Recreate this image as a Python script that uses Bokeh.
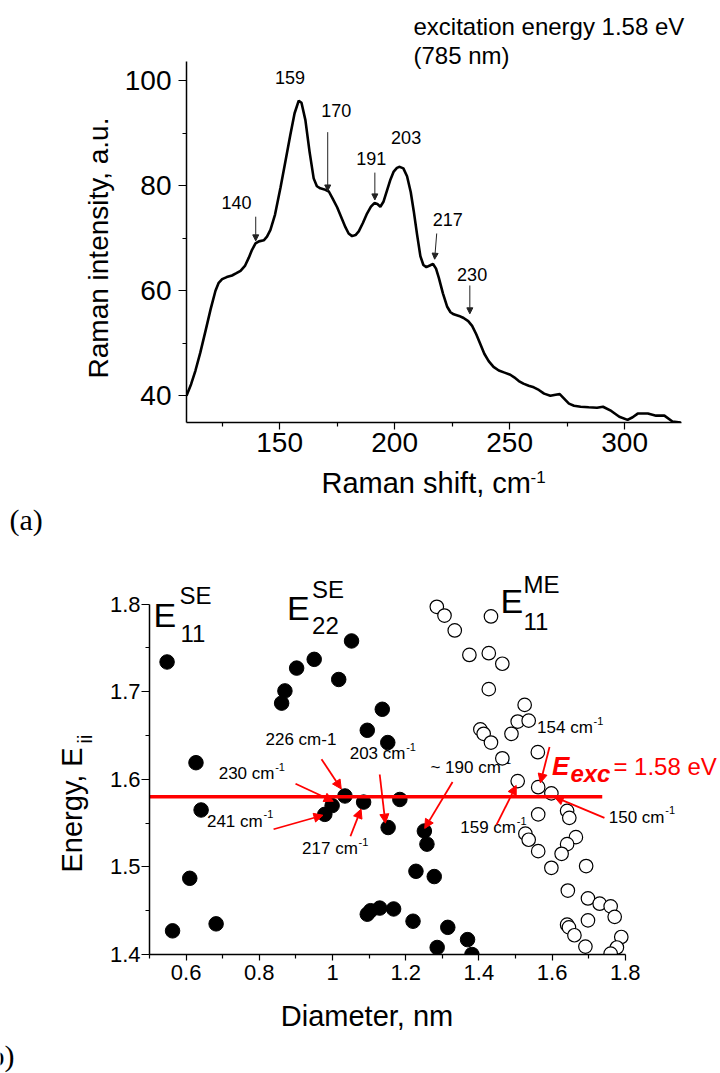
import math

from bokeh.plotting import figure
from bokeh.layouts import row
from bokeh.models import Range1d, FixedTicker, Arrow, NormalHead
from bokeh.core.properties import value
from bokeh.embed import file_html
from bokeh.resources import INLINE

FONT = "Liberation Sans"
SERIF = "Liberation Serif"
RED = "#ff0000"

# ---------------- (a) Raman spectrum, excitation 785 nm ----------------
raman_shift = [109.5, 111.5, 113.4, 115.5, 117.8, 120.0, 122.1, 123.5, 125.0, 127.0,
               129.3, 131.0, 133.0, 135.0, 136.6, 138.0, 139.5, 141.0, 143.1, 144.5,
               146.0, 148.0, 150.4, 152.5, 154.7, 156.5, 158.3, 159.5, 161.2, 163.0,
               164.8, 166.2, 167.7, 169.5, 171.4, 173.0, 175.0, 176.8, 178.6, 180.0,
               181.5, 183.0, 184.4, 186.2, 188.0, 189.7, 191.2, 192.5, 193.8, 195.2,
               196.7, 198.2, 199.6, 201.0, 202.2, 203.8, 205.4, 207.0, 208.3, 209.8,
               211.2, 212.5, 213.8, 215.3, 216.7, 218.0, 219.2, 221.0, 222.8, 224.3,
               225.7, 228.0, 230.0, 232.0, 233.7, 235.5, 237.3, 239.0, 240.9, 243.0,
               245.3, 247.8, 250.3, 252.0, 254.0, 256.0, 258.3, 260.5, 262.7, 265.0,
               267.7, 270.0, 271.8, 273.8, 275.8, 278.0, 280.9, 284.4, 288.0, 290.6,
               294.2, 297.7, 301.3, 303.5, 305.7, 310.1, 313.7, 317.3, 320.8, 324.4]
raman_intensity = [40.0, 42.2, 44.8, 48.2, 52.4, 56.5, 60.0, 61.5, 62.2, 62.6,
                   62.9, 63.3, 63.8, 64.8, 66.3, 67.8, 69.0, 69.4, 69.6, 70.3,
                   71.6, 74.5, 79.7, 84.6, 89.8, 93.8, 96.2, 95.8, 92.5, 86.5,
                   81.4, 79.9, 79.5, 79.3, 78.9, 77.6, 75.9, 74.0, 72.1, 70.9,
                   70.4, 70.6, 71.3, 72.9, 74.7, 76.0, 76.7, 76.5, 76.0, 77.0,
                   79.1, 81.2, 82.7, 83.4, 83.6, 83.3, 81.8, 78.8, 75.2, 70.6,
                   66.6, 64.9, 64.5, 64.8, 65.1, 64.2, 62.5, 59.5, 57.0, 55.9,
                   55.5, 55.2, 54.8, 54.2, 53.3, 51.7, 49.8, 48.0, 46.6, 45.5,
                   44.8, 44.4, 44.0, 43.5, 42.8, 42.3, 41.9, 41.6, 41.1, 40.4,
                   40.0, 40.2, 40.3, 39.4, 38.5, 38.1, 37.9, 37.8, 37.7, 37.9,
                   37.1, 36.0, 35.4, 35.9, 36.6, 36.6, 36.2, 36.2, 35.1, 34.9]
shift_axis = (109.5, 324.7)
intensity_axis = (34.9, 103.7)

# peak labels (baseline positions) above the curve
peak_text = ["140", "159", "170", "191", "203", "217", "230"]
peak_text_x = [131.2, 154.5, 174.6, 189.8, 205.0, 223.1, 233.7]
peak_text_y = [75.6, 99.4, 93.1, 84.0, 87.9, 72.3, 61.9]

# arrows pointing at weaker features of the spectrum
peak_arrow_x0 = [139.6, 170.9, 191.4, 218.3, 232.7]
peak_arrow_y0 = [74.1, 90.2, 82.5, 70.9, 61.0]
peak_arrow_x1 = [139.6, 170.9, 191.4, 217.4, 232.7]
peak_arrow_y1 = [69.5, 79.0, 77.3, 66.0, 55.6]

# ---------------- (b) Kataura-type plot ----------------
# semiconducting E11 transitions
d_e11_se = [0.548, 0.627, 0.641, 0.610, 0.563, 0.682]
e_e11_se = [1.734, 1.619, 1.565, 1.487, 1.427, 1.435]
# semiconducting E22 transitions
d_e22_se = [0.861, 0.870, 0.902, 0.950, 1.052, 1.017, 1.136, 1.095, 1.151,
            1.034, 0.999, 0.979, 1.085, 1.184, 1.152, 1.251, 1.258, 1.228, 1.278,
            1.095, 1.104, 1.129, 1.167, 1.220, 1.286, 1.315, 1.369, 1.381]
e_e22_se = [1.687, 1.701, 1.727, 1.737, 1.758, 1.714, 1.680, 1.656, 1.642,
            1.581, 1.570, 1.560, 1.574, 1.577, 1.545, 1.541, 1.526, 1.495, 1.489,
            1.446, 1.450, 1.453, 1.452, 1.438, 1.408, 1.431, 1.417, 1.400]
# metallic E11 transitions
d_e11_me = [1.285, 1.306, 1.334, 1.433, 1.374, 1.427, 1.464, 1.427, 1.525, 1.506,
            1.536, 1.404, 1.413, 1.433, 1.489, 1.561, 1.464, 1.506, 1.562, 1.598,
            1.562, 1.641, 1.647, 1.527, 1.536, 1.562, 1.665, 1.641, 1.626, 1.598,
            1.693, 1.643, 1.698, 1.730, 1.760, 1.771, 1.698, 1.641, 1.646, 1.661,
            1.789, 1.691, 1.777, 1.760]
e_e11_me = [1.797, 1.787, 1.770, 1.786, 1.742, 1.744, 1.732, 1.703, 1.685, 1.666,
            1.667, 1.657, 1.652, 1.642, 1.652, 1.631, 1.624, 1.598, 1.591, 1.584,
            1.560, 1.564, 1.556, 1.538, 1.531, 1.518, 1.534, 1.526, 1.515, 1.499,
            1.501, 1.473, 1.464, 1.458, 1.455, 1.443, 1.439, 1.434, 1.431, 1.422,
            1.420, 1.409, 1.408, 1.401]
diameter_axis = (0.5, 1.8)
energy_axis = (1.4, 1.8)

e_exc = 1.58
e_exc_line_end = 1.737

# assigned RBM frequencies (cm^-1) and their label baselines
rbm_text = ["230", "241", "217", "203", "~ 190", "159", "154", "150"]
rbm_text_x = [0.689, 0.657, 0.917, 1.047, 1.2675, 1.349, 1.559, 1.7547]
rbm_text_y = [1.599, 1.545, 1.514, 1.622, 1.6067, 1.538, 1.6516, 1.5496]

# arrows from each label to the matching tube
rbm_arrow_x0 = [0.970, 0.899, 0.839, 1.049, 1.129, 1.328, 1.448, 1.593, 1.743]
rbm_arrow_y0 = [1.623, 1.595, 1.543, 1.535, 1.6055, 1.597, 1.548, 1.637, 1.556]
rbm_arrow_x1 = [1.024, 1.002, 0.974, 1.078, 1.1445, 1.252, 1.502, 1.568, 1.606]
rbm_arrow_y1 = [1.589, 1.575, 1.559, 1.566, 1.550, 1.544, 1.593, 1.596, 1.580]

# the svg text anchor sits a little below the true baseline; lift by this fraction of an em
BASELINE_LIFT = 0.37


def style_axes(p, xticks, xminor, yticks, yminor, xbounds, ybounds,
               tick_size, x_standoff, y_standoff, x_tick_out, y_tick_out):
    p.outline_line_color = None
    p.xgrid.visible = False
    p.ygrid.visible = False
    p.background_fill_color = "white"
    p.border_fill_color = "white"
    p.xaxis.ticker = FixedTicker(ticks=xticks, minor_ticks=xminor)
    p.yaxis.ticker = FixedTicker(ticks=yticks, minor_ticks=yminor)
    p.xaxis.bounds = xbounds
    p.yaxis.bounds = ybounds
    for ax, out in ((p.xaxis[0], x_tick_out), (p.yaxis[0], y_tick_out)):
        ax.axis_line_width = 1.5
        ax.axis_line_color = "black"
        ax.major_tick_line_color = "black"
        ax.minor_tick_line_color = "black"
        ax.major_tick_line_width = 1.2
        ax.minor_tick_line_width = 1.2
        ax.major_tick_in = 0
        ax.major_tick_out = out
        ax.minor_tick_in = 0
        ax.minor_tick_out = 4
        ax.major_label_text_font = FONT
        ax.major_label_text_font_size = tick_size
        ax.major_label_text_color = "black"
    p.xaxis[0].major_label_standoff = x_standoff
    p.yaxis[0].major_label_standoff = y_standoff


def text(p, x, y, s, size, px_per_unit, font=FONT, vertical=False, **kw):
    """Place text by its baseline; size in px, px_per_unit of the axis across the text."""
    lift = BASELINE_LIFT * size / px_per_unit
    if vertical:
        x, kw["angle"] = x - lift, math.pi / 2
    else:
        y = y + lift
    opts = dict(text_color="black", text_baseline="alphabetic", text_align="left")
    opts.update(kw)
    p.text(x=[x], y=[y], text=[s], text_font=value(font), text_font_size=f"{size}px",
           **opts)


def blank(width, height, xr, yr, bottom=0):
    """A figure without axes whose frame is used only to place text."""
    f = figure(width=width, height=height, x_range=Range1d(*xr), y_range=Range1d(*yr),
               output_backend="svg", toolbar_location=None, title_location=None,
               x_axis_location=None, y_axis_location=None,
               min_border=0, min_border_left=0, min_border_right=0,
               min_border_top=0, min_border_bottom=bottom)
    f.grid.visible = False
    f.outline_line_color = None
    f.background_fill_color = "white"
    f.border_fill_color = "white"
    return f


# ---------------- panel (a) ----------------
PA_Y = 422 / (115.28 - 34.9)     # px per intensity unit
pa = figure(width=600, height=466,
            x_range=Range1d(109.5, 341.7), y_range=Range1d(34.9, 115.28),
            output_backend="svg", toolbar_location=None, title_location=None,
            min_border=0, min_border_left=66, min_border_right=0,
            min_border_top=0, min_border_bottom=44)
style_axes(pa, [150, 200, 250, 300], [125, 175, 225, 275],
           [40, 60, 80, 100], [50, 70, 90], shift_axis, intensity_axis,
           "28px", 3, 7, 7, 8)

pa.line(raman_shift, raman_intensity, line_color="black", line_width=2.6)

pa.text(x=peak_text_x, y=[y + BASELINE_LIFT * 18 / PA_Y for y in peak_text_y],
        text=peak_text, text_font=value(FONT), text_font_size="18px",
        text_color="black", text_align="center", text_baseline="alphabetic")

for x0, y0, x1, y1 in zip(peak_arrow_x0, peak_arrow_y0, peak_arrow_x1, peak_arrow_y1):
    pa.add_layout(Arrow(x_start=x0, y_start=y0, x_end=x1, y_end=y1,
                        line_color="#222222", line_width=1,
                        end=NormalHead(size=6, fill_color="#222222",
                                       line_color="#222222", line_width=1)))

text(pa, 208.2, 108.6, "excitation energy 1.58 eV", 24, PA_Y)
text(pa, 208.2, 103.05, "(785 nm)", 24, PA_Y)

# y title of panel (a), in pixel units of its own strip
ya = blank(120, 466, (0, 120), (44, 466), bottom=44)
text(ya, 108, 218.5, "Raman intensity, a.u.", 28, 1, vertical=True, text_align="center")

# x title and panel letter below panel (a)
xa = blank(720, 74, (0, 720), (0, 74))
text(xa, 321, 47, "Raman shift, cm", 29, 1)
text(xa, 530, 57, "-1", 17, 1)
text(xa, 9, 10, "(a)", 30, 1, font=SERIF)

# ---------------- panel (b) ----------------
PB_Y = 414 / (1.8727 - 1.4)      # px per eV
pb = figure(width=620, height=460,
            x_range=Range1d(0.5, 2.0601), y_range=Range1d(1.4, 1.8727),
            output_backend="svg", toolbar_location=None, title_location=None,
            min_border=0, min_border_left=49, min_border_right=0,
            min_border_top=0, min_border_bottom=46)
style_axes(pb, [0.6, 0.8, 1.0, 1.2, 1.4, 1.6, 1.8], [0.5, 0.7, 0.9, 1.1, 1.3, 1.5, 1.7],
           [1.4, 1.5, 1.6, 1.7, 1.8], [1.45, 1.55, 1.65, 1.75], diameter_axis, energy_axis,
           "22px", 4, 1, 6, 8)

# RBM labels sit underneath the markers
txt = dict(text_font=value(FONT), text_color="black", text_baseline="alphabetic",
           text_align="left")
pb.text(x=rbm_text_x, y=[y + BASELINE_LIFT * 17 / PB_Y for y in rbm_text_y],
        text=[t + " cm" for t in rbm_text], text_font_size="17px", **txt)
sup_offset = [71 if t.startswith("~") else 56.5 for t in rbm_text]
pb.text(x=rbm_text_x, y=[y + (9 + BASELINE_LIFT * 11) / PB_Y for y in rbm_text_y],
        text=["-1"] * len(rbm_text), x_offset=sup_offset, text_font_size="11px", **txt)
text(pb, 0.817, 1.638, "226 cm-1", 17, PB_Y)

pb.scatter(d_e11_se, e_e11_se, size=14.5, marker="circle",
           fill_color="black", line_color="black")
pb.scatter(d_e22_se, e_e22_se, size=14.5, marker="circle",
           fill_color="black", line_color="black")
pb.scatter(d_e11_me, e_e11_me, size=13.5, marker="circle",
           fill_color="white", line_color="black", line_width=1.2)

pb.line([diameter_axis[0], e_exc_line_end], [e_exc, e_exc], line_color=RED, line_width=3.5)

for x0, y0, x1, y1 in zip(rbm_arrow_x0, rbm_arrow_y0, rbm_arrow_x1, rbm_arrow_y1):
    pb.add_layout(Arrow(x_start=x0, y_start=y0, x_end=x1, y_end=y1,
                        line_color=RED, line_width=1.8,
                        end=NormalHead(size=9, fill_color=RED, line_color=RED,
                                       line_width=1)))

# excitation energy
text(pb, 1.600, 1.6047, "E", 26, PB_Y, text_color=RED, text_font_style="bold italic")
text(pb, 1.650, 1.5967, "exc", 24, PB_Y, text_color=RED, text_font_style="bold italic")
text(pb, 1.7675, 1.6047, "= 1.58 eV", 24, PB_Y, text_color=RED)

# branch labels
text(pb, 0.5107, 1.7737, "E", 34, PB_Y)
text(pb, 0.5817, 1.8000, "SE", 24, PB_Y)
text(pb, 0.5844, 1.7566, "11", 24, PB_Y)
text(pb, 0.8760, 1.7817, "E", 34, PB_Y)
text(pb, 0.9443, 1.8069, "SE", 24, PB_Y)
text(pb, 0.9443, 1.7657, "22", 24, PB_Y)
text(pb, 1.4588, 1.7894, "E", 34, PB_Y)
text(pb, 1.5216, 1.8126, "ME", 24, PB_Y)
text(pb, 1.5216, 1.7703, "11", 24, PB_Y)

# y title of panel (b)
yb = blank(100, 460, (0, 100), (46, 460), bottom=46)
text(yb, 82, 128, "Energy, E", 29, 1, vertical=True)
text(yb, 92, 257, "ii", 20, 1, vertical=True)

# x title and panel letter below panel (b)
xb = blank(720, 73, (0, 720), (0, 73))
text(xb, 366.5, 46.3, "Diameter, nm", 29, 1, text_align="center")
text(xb, 14, 7, "(b)", 30, 1, font=SERIF, text_align="right")

roots = [row(ya, pa), row(xa), row(yb, pb), row(xb)]
open("out.html", "w").write(file_html(roots, INLINE))
